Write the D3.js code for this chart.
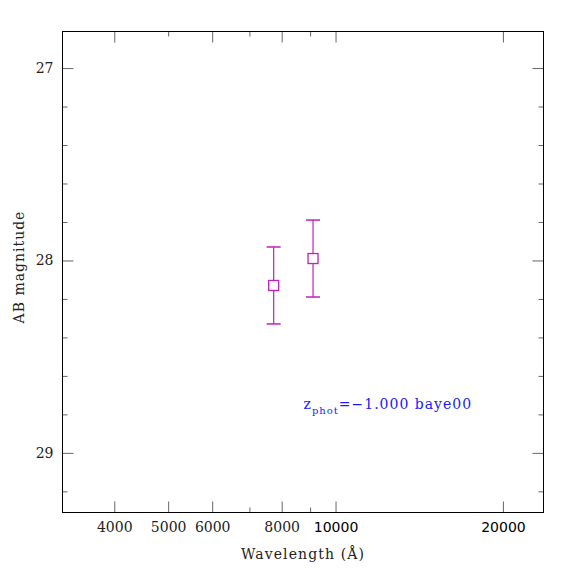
<!DOCTYPE html>
<html>
<head>
<meta charset="utf-8">
<script src="https://cdn.jsdelivr.net/npm/d3@7"></script>
<style>
  body { margin: 0; background: #fff; }
  text { font-family: "DejaVu Serif", serif; }
</style>
</head>
<body>
<div id="chart"></div>
<script>
// photometry points (wavelength in Angstrom, AB mag, error)
const wavelengths = [7740, 9110];
const magnitudes = [28.13, 27.99];
const magErrors = [0.2, 0.2];

const xMajorTicks = [4000, 5000, 6000, 8000, 10000, 20000];
const xMinorTicks = [7000, 9000];
const xTopShort = [5000, 7000, 9000];
const yMajorTicks = [27, 28, 29];
const yMinorTicks = [27.2, 27.4, 27.6, 27.8, 28.2, 28.4, 28.6, 28.8, 29.2];

const zphot = "-1.000";
const templateName = "baye00";

function drawChart() {
    const W = 481, H = 481;
    const svg = d3.select("#chart")
        .append("svg")
        .attr("width", 574)
        .attr("height", 574)
        .append("g")
        .attr("transform", "translate(62.5,31.5)");

    const x = d3.scaleLog()
        .domain([3228, 23660])
        .range([0, W]);

    const y = d3.scaleLinear()
        .domain([26.81, 29.31])
        .range([0, H]);

    const tickColor = "#666";

    // bottom axis
    const xb = svg.append("g")
        .attr("transform", "translate(0," + H + ")")
        .call(d3.axisBottom(x).tickValues(xMajorTicks).tickSize(-11).tickPadding(10).tickFormat(d3.format("d")));
    xb.select(".domain").remove();
    xb.selectAll("line").attr("stroke", tickColor);
    xb.selectAll("text")
        .style("font-size", "14px")
        .style("fill", d => d >= 10000 ? "#000" : "#222")
        .style("font-family", d => d >= 10000 ? "DejaVu Sans, sans-serif" : "DejaVu Serif, serif");

    const xbm = svg.append("g")
        .attr("transform", "translate(0," + H + ")")
        .call(d3.axisBottom(x).tickValues(xMinorTicks).tickSize(-5).tickFormat(""));
    xbm.select(".domain").remove();
    xbm.selectAll("line").attr("stroke", tickColor);

    // top axis
    const xt = svg.append("g")
        .call(d3.axisTop(x).tickValues(xMajorTicks.filter(d => !xTopShort.includes(d))).tickSize(-11).tickFormat(""));
    xt.select(".domain").remove();
    xt.selectAll("line").attr("stroke", tickColor);

    const xtm = svg.append("g")
        .call(d3.axisTop(x).tickValues(xTopShort).tickSize(-5).tickFormat(""));
    xtm.select(".domain").remove();
    xtm.selectAll("line").attr("stroke", tickColor);

    // left axis
    const yl = svg.append("g")
        .call(d3.axisLeft(y).tickValues(yMajorTicks).tickSize(-11).tickPadding(9).tickFormat(d3.format("d")));
    yl.select(".domain").remove();
    yl.selectAll("line").attr("stroke", tickColor);
    yl.selectAll("text").style("font-size", "14px").style("fill", "#222");

    const ylm = svg.append("g")
        .call(d3.axisLeft(y).tickValues(yMinorTicks).tickSize(-5).tickFormat(""));
    ylm.select(".domain").remove();
    ylm.selectAll("line").attr("stroke", tickColor);

    // right axis
    const yr = svg.append("g")
        .attr("transform", "translate(" + W + ",0)")
        .call(d3.axisRight(y).tickValues(yMajorTicks).tickSize(-11).tickFormat(""));
    yr.select(".domain").remove();
    yr.selectAll("line").attr("stroke", tickColor);

    const yrm = svg.append("g")
        .attr("transform", "translate(" + W + ",0)")
        .call(d3.axisRight(y).tickValues(yMinorTicks).tickSize(-5).tickFormat(""));
    yrm.select(".domain").remove();
    yrm.selectAll("line").attr("stroke", tickColor);

    // frame
    svg.append("rect")
        .attr("width", W)
        .attr("height", H)
        .style("fill", "none")
        .style("stroke", "black")
        .style("stroke-width", 1);

    // axis titles
    svg.append("text")
        .attr("transform", "rotate(-90)")
        .attr("x", -235.5)
        .attr("y", -39)
        .style("text-anchor", "middle")
        .style("font-size", "14px")
        .style("letter-spacing", "1px")
        .style("fill", "#222")
        .text("AB magnitude");

    svg.append("text")
        .attr("x", 240.5)
        .attr("y", 527)
        .style("text-anchor", "middle")
        .style("font-size", "14px")
        .style("letter-spacing", "1.1px")
        .style("fill", "#222")
        .text("Wavelength (\u00c5)");

    const pts = wavelengths.map((w, i) => ({ w: w, m: magnitudes[i], e: magErrors[i] }));
    const col = "#c020c0";

    // error bars
    svg.selectAll(".err")
        .data(pts)
        .enter()
        .append("line")
        .attr("class", "err")
        .attr("x1", d => x(d.w))
        .attr("x2", d => x(d.w))
        .attr("y1", d => y(d.m - d.e))
        .attr("y2", d => y(d.m + d.e))
        .style("stroke", col)
        .style("stroke-width", 1.2);

    [-1, 1].forEach(s => {
        svg.selectAll(".cap" + (s + 1))
            .data(pts)
            .enter()
            .append("line")
            .attr("x1", d => x(d.w) - 7)
            .attr("x2", d => x(d.w) + 7)
            .attr("y1", d => y(d.m + s * d.e))
            .attr("y2", d => y(d.m + s * d.e))
            .style("stroke", col)
            .style("stroke-width", 1.5);
    });

    // square markers
    svg.selectAll(".pt")
        .data(pts)
        .enter()
        .append("rect")
        .attr("class", "pt")
        .attr("x", d => x(d.w) - 5)
        .attr("y", d => y(d.m) - 5)
        .attr("width", 10)
        .attr("height", 10)
        .style("fill", "white")
        .style("stroke", col)
        .style("stroke-width", 1.3);

    // redshift annotation
    const ann = svg.append("text")
        .attr("x", 241)
        .attr("y", 377)
        .style("font-size", "14px")
        .style("letter-spacing", "1px")
        .style("fill", "#1a1aff");
    ann.append("tspan").text("z");
    ann.append("tspan").attr("dy", 5).style("font-size", "10px").text("phot");
    ann.append("tspan").attr("dy", -5).text("=" + zphot.replace("-", "\u2212") + " " + templateName);
}

drawChart();
</script>
</body>
</html>
